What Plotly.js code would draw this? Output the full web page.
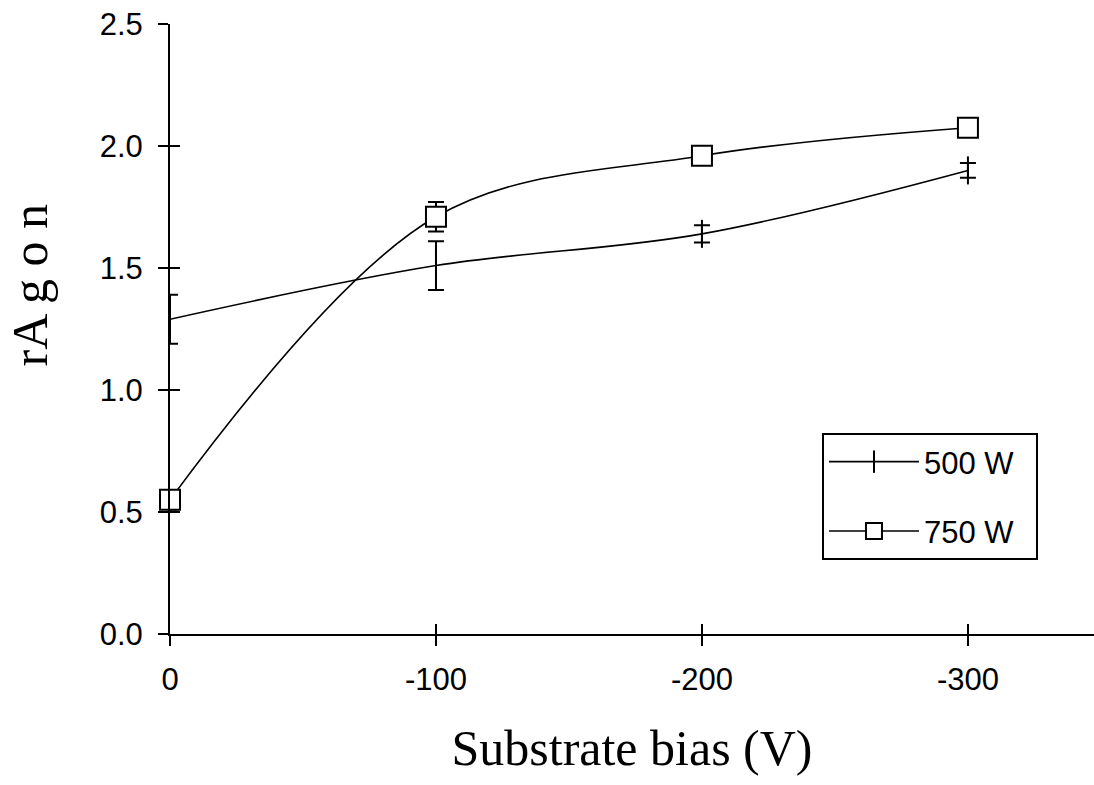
<!DOCTYPE html>
<html>
<head>
<meta charset="utf-8">
<script src="https://cdn.plot.ly/plotly-3.0.1.min.js"></script>
<style>html,body{margin:0;padding:0;background:#fff}#chart{width:1094px;height:785px}</style>
</head>
<body>
<div id="chart"></div>
<script>
// Data
const bias = [0, -100, -200, -300];
const ar500 = [1.29, 1.51, 1.64, 1.90];
const err500 = [0.10, 0.10, 0.035, 0.03];
const ar750 = [0.55, 1.71, 1.96, 2.075];
const err750 = [0.04, 0.06, 0.03, 0.03];
const seriesNames = ['500 W\u00a0\u00a0', '750 W\u00a0\u00a0'];
const xTicks = [0, -100, -200, -300];
const xTickText = ['0', '-100', '-200', '-300'];
const yTicks = [0, 0.5, 1.0, 1.5, 2.0, 2.5];

const xRange = [0, -347.4];
const yRange = [0, 2.5];

const traces = [
  {
    x: bias, y: ar500, name: seriesNames[0], type: 'scatter', mode: 'lines+markers',
    line: {color: '#000', width: 1.6, shape: 'spline', smoothing: 1.0},
    marker: {symbol: 'line-ns-open', size: 20, color: '#000', line: {color: '#000', width: 2}},
    error_y: {type: 'data', array: err500, visible: true, color: '#000', thickness: 2, width: 8},
    legendgroup: 'a', cliponaxis: false
  },
  {
    x: bias, y: ar750, name: seriesNames[1], type: 'scatter', mode: 'lines+markers',
    line: {color: '#000', width: 1.6, shape: 'spline', smoothing: 1.0},
    marker: {symbol: 'square', size: 20, color: '#fff', line: {color: '#000', width: 2}},
    error_y: {type: 'data', array: err750, visible: true, color: '#000', thickness: 2, width: 8},
    legendgroup: 'b', cliponaxis: false
  },
  {x: [], y: [], xaxis: 'x2', yaxis: 'y2', showlegend: false, hoverinfo: 'skip'}
];

const tickFont = {family: 'Liberation Sans, Arial, sans-serif', size: 31, color: '#000'};
const titleFont = {family: 'Liberation Serif, Times New Roman, serif', size: 50, color: '#000'};

const layout = {
  width: 1094, height: 785,
  margin: {l: 170, r: 0, t: 24, b: 151, autoexpand: false},
  paper_bgcolor: '#fff', plot_bgcolor: '#fff',
  showlegend: true,
  legend: {
    x: 0.7056, y: 0.3295, xanchor: 'left', yanchor: 'top',
    bordercolor: '#000', borderwidth: 2, bgcolor: '#fff',
    font: {family: 'Liberation Sans, Arial, sans-serif', size: 31, color: '#000'},
    traceorder: 'grouped', tracegroupgap: 26, itemwidth: 90
  },
  xaxis: {
    range: xRange, tickvals: xTicks, ticktext: xTickText,
    ticks: 'outside', ticklen: 10, tickwidth: 2, tickcolor: '#000',
    showline: true, linewidth: 2, linecolor: '#000',
    showgrid: false, zeroline: false, tickfont: tickFont,
    ticklabelstandoff: 7,
    title: {text: 'Substrate bias (V)', font: titleFont, standoff: 34},
    automargin: false
  },
  yaxis: {
    range: yRange, tickvals: yTicks, tickformat: '.1f',
    ticks: 'outside', ticklen: 10, tickwidth: 2, tickcolor: '#000',
    showline: true, linewidth: 2, linecolor: '#000',
    showgrid: false, zeroline: false, tickfont: tickFont,
    ticklabelstandoff: 9,
    title: {text: '\u200b\u00a0\u00a0\u00a0\u00a0\u00a0\u00a0\u00a0rA g o n', font: titleFont, standoff: 36},
    automargin: false
  },
  xaxis2: {
    overlaying: 'x', anchor: 'y2', side: 'bottom', range: xRange, tickvals: xTicks,
    ticks: 'inside', ticklen: 10, tickwidth: 2, tickcolor: '#000',
    showticklabels: false, showline: false, showgrid: false, zeroline: false
  },
  yaxis2: {
    overlaying: 'y', anchor: 'x2', side: 'left', range: yRange, tickvals: yTicks,
    ticks: 'inside', ticklen: 10, tickwidth: 2, tickcolor: '#000',
    showticklabels: false, showline: false, showgrid: false, zeroline: false
  }
};

Plotly.newPlot('chart', traces, layout, {displayModeBar: false, staticPlot: true});
</script>
</body>
</html>
